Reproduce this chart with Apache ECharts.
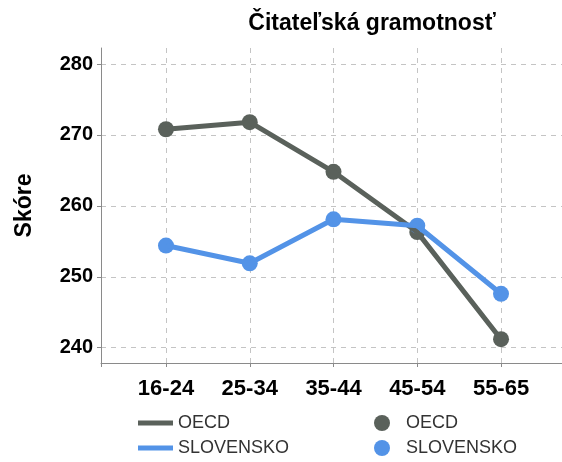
<!DOCTYPE html>
<html>
<head>
<meta charset="utf-8">
<script src="https://cdn.jsdelivr.net/npm/echarts@6/dist/echarts.min.js"></script>
<style>
  html, body { margin: 0; padding: 0; background: #fff; }
  #main { width: 562px; height: 462px; }
</style>
</head>
<body>
<div id="main"></div>
<script>
var categories = ['16-24', '25-34', '35-44', '45-54', '55-65'];
var oecd = [270.8, 271.8, 264.8, 256.3, 241.2];
var slovensko = [254.4, 251.9, 258.1, 257.2, 247.6];
var yTicks = [240, 250, 260, 270, 280];

var fontFamily = '"Liberation Sans", Arial, sans-serif';
var cOecd = '#5a615b';
var cSk = '#5393e7';

function pts(arr) {
  return arr.map(function (v, i) { return [i, v]; });
}
var catIdx = categories.map(function (c, i) { return i; });

var option = {
  title: {
    text: 'Čitateľská gramotnosť',
    left: 367,
    top: 7,
    textAlign: 'center',
    textStyle: { fontFamily: fontFamily, fontSize: 23, fontWeight: 'bold', color: '#000' }
  },
  grid: { left: 101, right: 0, top: 48, bottom: 99 },
  legend: [
    {
      orient: 'vertical', left: 138, top: 414, padding: 0, itemGap: 7,
      itemWidth: 35, itemHeight: 5, selectedMode: false,
      data: [{ name: 'OECD_l', icon: 'rect' }, { name: 'SLOVENSKO_l', icon: 'rect' }],
      formatter: function (n) { return n.split('_')[0]; },
      textStyle: { fontFamily: fontFamily, fontSize: 18, color: '#333', lineHeight: 18 }
    },
    {
      orient: 'vertical', left: 374, top: 414, padding: 0, itemGap: 7,
      itemWidth: 38, itemHeight: 16, selectedMode: false,
      data: [{ name: 'OECD_p', icon: 'circle' }, { name: 'SLOVENSKO_p', icon: 'circle' }],
      formatter: function (n) { return n.split('_')[0]; },
      textStyle: { fontFamily: fontFamily, fontSize: 18, color: '#333', lineHeight: 18 }
    }
  ],
  xAxis: {
    type: 'value',
    min: -0.776,
    max: 4.728,
    axisLine: { lineStyle: { color: '#8a8a8a', width: 1 } },
    axisTick: { show: true, length: 4, customValues: [-0.776].concat(catIdx), lineStyle: { color: '#8a8a8a' } },
    axisLabel: {
      customValues: catIdx,
      formatter: function (v) { return categories[Math.round(v)]; },
      margin: 15,
      fontFamily: fontFamily, fontSize: 22, fontWeight: 'bold', color: '#000'
    },
    splitLine: { show: true, lineStyle: { color: '#c4c4c4', type: [5, 5], width: 1 } }
  },
  yAxis: {
    type: 'value',
    min: 237.84,
    max: 282.26,
    name: 'Skóre',
    nameLocation: 'middle',
    nameRotate: 90,
    nameGap: 65,
    nameTextStyle: { fontFamily: fontFamily, fontSize: 23, fontWeight: 'bold', color: '#000' },
    axisLine: { show: true, onZero: false, lineStyle: { color: '#8a8a8a', width: 1 } },
    axisTick: { show: true, length: 4, customValues: yTicks, lineStyle: { color: '#8a8a8a' } },
    axisLabel: {
      customValues: yTicks,
      margin: 8,
      fontFamily: fontFamily, fontSize: 20, fontWeight: 'bold', color: '#000'
    },
    splitLine: { show: true, lineStyle: { color: '#c4c4c4', type: [5, 5], width: 1 } }
  },
  series: [
    {
      name: 'OECD_l', type: 'line', data: pts(oecd), showSymbol: false,
      lineStyle: { color: cOecd, width: 5 }, itemStyle: { color: cOecd }, silent: true
    },
    {
      name: 'SLOVENSKO_l', type: 'line', data: pts(slovensko), showSymbol: false,
      lineStyle: { color: cSk, width: 5 }, itemStyle: { color: cSk }, silent: true
    },
    {
      name: 'OECD_p', type: 'scatter', data: pts(oecd), symbolSize: 16,
      itemStyle: { color: cOecd, opacity: 1 }
    },
    {
      name: 'SLOVENSKO_p', type: 'scatter', data: pts(slovensko), symbolSize: 16,
      itemStyle: { color: cSk, opacity: 1 }
    }
  ]
};

var myChart = echarts.init(document.getElementById('main'));
myChart.setOption(option);
</script>
</body>
</html>
